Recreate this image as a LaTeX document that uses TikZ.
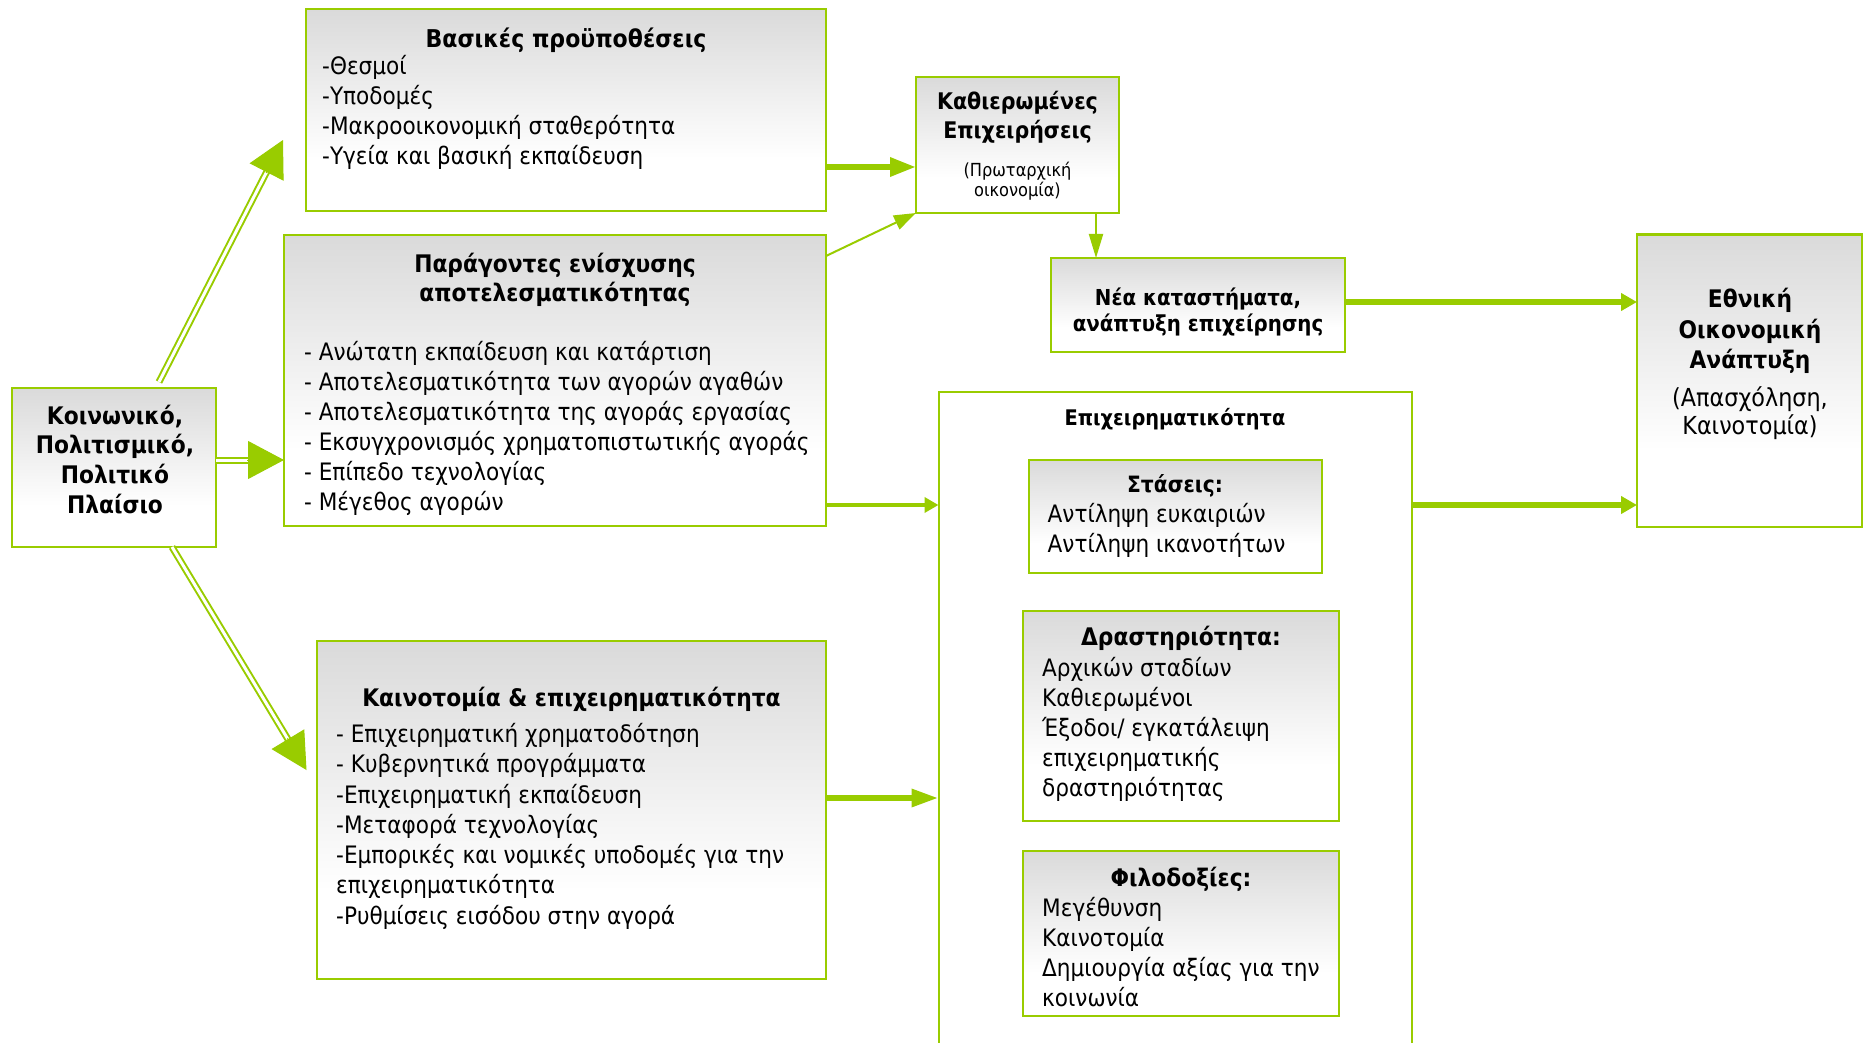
\documentclass[tikz,border=0pt]{standalone}
\usepackage{fontspec}
\setmainfont{DejaVu Sans}[FakeStretch=0.90]
\usetikzlibrary{arrows.meta,calc}
\definecolor{gr}{RGB}{153,204,0}
\definecolor{shadegray}{RGB}{218,218,218}
\pgfdeclareverticalshading{boxshade}{100bp}{color(0bp)=(white); color(38bp)=(white); color(75bp)=(shadegray); color(100bp)=(shadegray)}
\newcommand\fs[1]{\fontsize{#1}{#1}\selectfont}
\begin{document}
\begin{tikzpicture}[x=1pt,y=-1pt,
  gbox/.style={draw=gr, line width=2pt, shade, shading=boxshade, anchor=north west, inner sep=0pt, outer sep=0pt},
  wbox/.style={draw=gr, line width=2pt, fill=white, anchor=north west, inner sep=0pt, outer sep=0pt},
  ltxt/.style={anchor=base west, inner sep=0pt, font=\fs{24}},
  ctxt/.style={anchor=base, inner sep=0pt, font=\fs{24.8}},
  btxt/.style={anchor=base, inner sep=0pt, font=\bfseries\fs{24.2}},
  thinarrow/.style={draw=gr, line width=2pt, -{Triangle[length=22pt,width=15pt]}},
  thickarrow/.style={draw=gr, line width=5.5pt, -{Triangle[length=16pt,width=17pt]}},
  dbl/.style={draw=gr, line width=2pt, double=white, double distance=3pt},
  bighead/.style={draw=gr, line width=1pt, -{Triangle[length=36pt,width=38pt]}},
]
\useasboundingbox (0,0) rectangle (1863,1043);
\fill[white] (0,0) rectangle (1863,1043);

% boxes
\node[gbox, minimum width=204pt, minimum height=159pt] (soc) at (12,388) {};
\node[gbox, minimum width=520pt, minimum height=202pt] (bas) at (306,9.5) {};
\node[gbox, minimum width=542pt, minimum height=291pt] (par) at (284,235) {};
\node[gbox, minimum width=203pt, minimum height=136pt] (kath) at (916,77) {};
\node[gbox, minimum width=294pt, minimum height=94pt] (nea) at (1051,258) {};
\node[gbox, minimum width=225pt, minimum height=292pt] (eth) at (1637,234.5) {};
\node[wbox, minimum width=473pt, minimum height=668pt] (big) at (938.5,392) {};
\node[gbox, minimum width=293.5pt, minimum height=113pt] (sta) at (1028.5,460) {};
\node[gbox, minimum width=316pt, minimum height=209.5pt] (dra) at (1023,611) {};
\node[gbox, minimum width=316pt, minimum height=165pt] (fil) at (1023,851) {};
\node[gbox, minimum width=509pt, minimum height=338pt] (kai) at (317,641) {};

% soc text
\node[btxt] (soc1) at (115,424) {Κοινωνικό,};
\node[btxt] (soc2) at (115,453.3) {Πολιτισμικό,};
\node[btxt] (soc3) at (115,483.3) {Πολιτικό};
\node[btxt] (soc4) at (115,513.3) {Πλαίσιο};

% bas text
\node[btxt, font=\bfseries\fs{24.5}] (bas0) at (566,48) {Βασικές προϋποθέσεις};
\node[ltxt] (bas1) at (322,75) {-Θεσμοί};
\node[ltxt] (bas2) at (322,105) {-Υποδομές};
\node[ltxt] (bas3) at (322,135) {-Μακροοικονομική σταθερότητα};
\node[ltxt] (bas4) at (322,165) {-Υγεία και βασική εκπαίδευση};

% par text
\node[btxt] (par0) at (555,272) {Παράγοντες ενίσχυσης};
\node[btxt] (par0b) at (555,301) {αποτελεσματικότητας};
\node[ltxt] (par1) at (304,360) {- Ανώτατη εκπαίδευση και κατάρτιση};
\node[ltxt] (par2) at (304,390) {- Αποτελεσματικότητα των αγορών αγαθών};
\node[ltxt] (par3) at (304,420) {- Αποτελεσματικότητα της αγοράς εργασίας};
\node[ltxt] (par4) at (304,450) {- Εκσυγχρονισμός χρηματοπιστωτικής αγοράς};
\node[ltxt] (par5) at (304,480.5) {- Επίπεδο τεχνολογίας};
\node[ltxt] (par6) at (304,510) {- Μέγεθος αγορών};

% kath text
\node[btxt, font=\bfseries\fs{22.9}] (kath1) at (1017.5,109.5) {Καθιερωμένες};
\node[btxt, font=\bfseries\fs{22.9}] (kath2) at (1017.5,138.5) {Επιχειρήσεις};
\node[ctxt, font=\fs{18}] (kath3) at (1017.5,177) {(Πρωταρχική};
\node[ctxt, font=\fs{18}] (kath4) at (1017.5,197) {οικονομία)};

% nea text
\node[btxt, font=\bfseries\fs{22}] (nea1) at (1198,305) {Νέα καταστήματα,};
\node[btxt, font=\bfseries\fs{22}] (nea2) at (1198,331.5) {ανάπτυξη επιχείρησης};

% eth text
\node[btxt] (eth1) at (1750,307) {Εθνική};
\node[btxt] (eth2) at (1750,338) {Οικονομική};
\node[btxt] (eth3) at (1750,368) {Ανάπτυξη};
\node[ctxt] (eth4) at (1750,406) {(Απασχόληση,};
\node[ctxt] (eth5) at (1750,434.5) {Καινοτομία)};

% big text
\node[btxt, font=\bfseries\fs{21.5}] (big0) at (1175,425) {Επιχειρηματικότητα};

% sta text
\node[btxt, font=\bfseries\fs{22.5}] (sta0) at (1175,492.5) {Στάσεις:};
\node[ltxt] (sta1) at (1047.5,522.5) {Αντίληψη ευκαιριών};
\node[ltxt] (sta2) at (1047.5,552) {Αντίληψη ικανοτήτων};

% dra text
\node[btxt] (dra0) at (1181,645.5) {Δραστηριότητα:};
\node[ltxt] (dra1) at (1042,676) {Αρχικών σταδίων};
\node[ltxt] (dra2) at (1042,706) {Καθιερωμένοι};
\node[ltxt] (dra3) at (1042,736.5) {Έξοδοι/ εγκατάλειψη};
\node[ltxt] (dra4) at (1042,766.5) {επιχειρηματικής};
\node[ltxt] (dra5) at (1042,796.5) {δραστηριότητας};

% fil text
\node[btxt] (fil0) at (1181,886) {Φιλοδοξίες:};
\node[ltxt] (fil1) at (1042,916) {Μεγέθυνση};
\node[ltxt] (fil2) at (1042,946) {Καινοτομία};
\node[ltxt] (fil3) at (1042,976) {Δημιουργία αξίας για την};
\node[ltxt] (fil4) at (1042,1006) {κοινωνία};

% kai text
\node[btxt] (kai0) at (571.5,706) {Καινοτομία \& επιχειρηματικότητα};
\node[ltxt] (kai1) at (336,742) {- Επιχειρηματική χρηματοδότηση};
\node[ltxt] (kai2) at (336,772.5) {- Κυβερνητικά προγράμματα};
\node[ltxt] (kai3) at (336,803) {-Επιχειρηματική εκπαίδευση};
\node[ltxt] (kai4) at (336,833) {-Μεταφορά τεχνολογίας};
\node[ltxt] (kai5) at (336,863) {-Εμπορικές και νομικές υποδομές για την};
\node[ltxt] (kai6) at (336,893.5) {επιχειρηματικότητα};
\node[ltxt] (kai7) at (336,924) {-Ρυθμίσεις εισόδου στην αγορά};

% connector levels
\coordinate (yBK) at (0,167);
\coordinate (yPK) at (0,256);
\coordinate (xKN) at (1096,0);
\coordinate (yNE) at (0,302);
\coordinate (yBE) at (0,505);
\coordinate (yKB) at (0,798);
\coordinate (yS) at (0,460);

\draw[thickarrow, line width=6pt, -{Triangle[length=26pt,width=18pt]}] (bas.east |- yBK) -- (kath.west |- yBK);
\draw[thinarrow] (par.east |- yPK) -- (kath.south west);
\draw[thinarrow, -{Triangle[length=24pt,width=14pt]}] (kath.south -| xKN) -- (nea.north -| xKN);
\draw[thickarrow] (nea.east |- yNE) -- (eth.west |- yNE);
\draw[thickarrow] (big.east |- yBE) -- (eth.west |- yBE);
\draw[thickarrow, line width=4.5pt, -{Triangle[length=14pt,width=15pt]}] (par.east |- yBE) -- (big.west |- yBE);
\draw[thickarrow, line width=6pt, -{Triangle[length=27pt,width=17pt]}] (kai.east |- yKB) -- (big.west |- yKB);

% double arrows from soc
\coordinate (tailA) at ([xshift=45pt,yshift=6pt]soc.north);
\coordinate (tipA) at (283,140);
\draw[dbl] (tailA) -- ($(tipA)!34pt!(tailA)$);
\draw[bighead] ($(tipA)!37pt!(tailA)$) -- (tipA);

\coordinate (tailB) at (soc.east |- yS);
\coordinate (tipB) at (par.west |- yS);
\draw[dbl] (tailB) -- ($(tipB)!34pt!(tailB)$);
\draw[bighead] ($(tipB)!37pt!(tailB)$) -- (tipB);

\coordinate (tailC) at ([xshift=58pt]soc.south);
\coordinate (tipC) at (306.5,770);
\draw[dbl] (tailC) -- ($(tipC)!34pt!(tailC)$);
\draw[bighead] ($(tipC)!37pt!(tailC)$) -- (tipC);
\end{tikzpicture}
\end{document}
